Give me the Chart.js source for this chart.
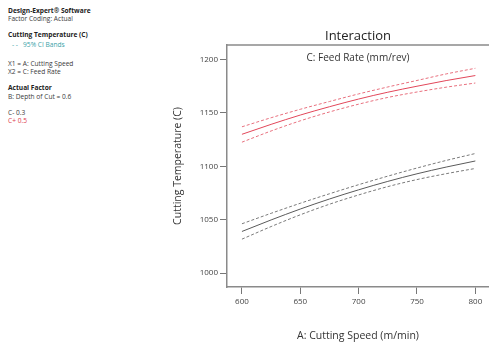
<!DOCTYPE html>
<html><head><meta charset="utf-8">
<script src="https://cdn.jsdelivr.net/npm/chart.js@4.4.1/dist/chart.umd.min.js"></script>
<style>
html,body{margin:0;padding:0;background:#fff;width:489px;height:348px;overflow:hidden;font-family:"Open Sans",sans-serif}
#wrap{position:absolute;left:150px;top:0;width:339px;height:348px}
.t{position:absolute;left:8px;font-size:6.6px;line-height:8px;color:#3a3a3a;white-space:nowrap}
.b{font-weight:bold;color:#222}
#feed{position:absolute;left:227px;width:262px;top:50px;text-align:center;font-size:10px;line-height:14px;color:#333}
</style></head>
<body>
<div class="t b" style="top:7px">Design-Expert® Software</div>
<div class="t" style="top:15px">Factor Coding: Actual</div>
<div class="t b" style="top:31px">Cutting Temperature (C)</div>
<div class="t" style="top:41px;left:12px;color:#3a9fa8">- -&nbsp;&nbsp;&nbsp;95% CI Bands</div>
<div class="t" style="top:60px">X1 = A: Cutting Speed</div>
<div class="t" style="top:68px">X2 = C: Feed Rate</div>
<div class="t b" style="top:84px">Actual Factor</div>
<div class="t" style="top:93px">B: Depth of Cut = 0.6</div>
<div class="t" style="top:109px">C- 0.3</div>
<div class="t" style="top:117px;color:#e03a4e">C+ 0.5</div>
<div id="wrap"><canvas id="c" width="339" height="348"></canvas></div>
<div id="feed">C: Feed Rate (mm/rev)</div>
<script>
// Cutting speed (m/min)
const speed = [600, 625, 650, 675, 700, 725, 750, 775, 800];
// C- 0.3 (feed rate low)
const lowMean  = [1039.0, 1049.8, 1060.0, 1069.4, 1078.0, 1085.9, 1093.0, 1099.3, 1105.0];
const lowUpper = [1046.2, 1056.0, 1065.4, 1074.3, 1082.8, 1090.8, 1098.4, 1105.5, 1112.0];
const lowLower = [1031.8, 1043.6, 1054.6, 1064.5, 1073.2, 1081.0, 1087.6, 1093.1, 1098.0];
// C+ 0.5 (feed rate high)
const highMean  = [1130.0, 1139.3, 1148.0, 1155.8, 1163.0, 1169.4, 1175.0, 1180.3, 1185.0];
const highUpper = [1137.0, 1145.5, 1153.4, 1160.7, 1167.8, 1174.3, 1180.4, 1186.5, 1191.8];
const highLower = [1122.6, 1133.1, 1142.6, 1150.9, 1158.2, 1164.5, 1169.6, 1174.1, 1178.0];
// tick labels
const xTicks = [600, 650, 700, 750, 800];
const yTicks = [1000, 1050, 1100, 1150, 1200];

const pts = arr => arr.map((v, i) => ({x: speed[i], y: v}));
const RED = '#e2475a', RED_D = '#e8707e', GRAY = '#5a5a5a', GRAY_D = '#7a7a7a';
function ds(label, arr, color, dashed) {
  return {label, data: pts(arr), borderColor: color, borderWidth: 1,
    borderDash: dashed ? [3, 2] : [], pointRadius: 0, fill: false,
    cubicInterpolationMode: 'monotone'};
}
const topLine = {
  id: 'topLine',
  afterDraw(chart) {
    const a = chart.chartArea, ctx = chart.ctx;
    ctx.save(); ctx.strokeStyle = '#8a8a8a'; ctx.lineWidth = 1.5;
    ctx.beginPath(); ctx.moveTo(a.left, a.top); ctx.lineTo(a.right, a.top); ctx.stroke();
    ctx.restore();
  }
};
new Chart(document.getElementById('c'), {
  type: 'line',
  data: {datasets: [
    ds('C+ 0.5 upper', highUpper, RED_D, true),
    ds('C+ 0.5', highMean, RED, false),
    ds('C+ 0.5 lower', highLower, RED_D, true),
    ds('C- 0.3 upper', lowUpper, GRAY_D, true),
    ds('C- 0.3', lowMean, GRAY, false),
    ds('C- 0.3 lower', lowLower, GRAY_D, true)
  ]},
  plugins: [topLine],
  options: {
    responsive: false, animation: false,
    layout: {padding: {left: 0, right: 0, top: 0, bottom: 0}},
    plugins: {
      legend: {display: false}, tooltip: {enabled: false},
      title: {display: true, text: 'Interaction', fullSize: false, color: '#222',
        font: {family: 'Open Sans', size: 13, weight: 'normal'}, padding: {top: 28, bottom: 1.4}}
    },
    scales: {
      x: {type: 'linear', min: 587.2, max: 811.7,
        afterBuildTicks: s => { s.ticks = xTicks.map(v => ({value: v})); },
        afterFit: s => { s.height = 61; },
        grid: {drawOnChartArea: false, drawTicks: true, tickLength: 7, color: '#8a8a8a', tickColor: '#777'},
        border: {display: true, color: '#8a8a8a', width: 1.5},
        ticks: {color: '#444', font: {family: 'Open Sans', size: 8}, padding: 3, maxRotation: 0,
          callback: v => String(v)},
        title: {display: true, text: 'A: Cutting Speed (m/min)', color: '#333',
          font: {family: 'Open Sans', size: 10.5}, padding: {top: 0, bottom: 6}}
      },
      y: {min: 987, max: 1213.6,
        afterBuildTicks: s => { s.ticks = yTicks.map(v => ({value: v})); },
        afterFit: s => { s.width = 77; },
        grid: {drawOnChartArea: false, drawTicks: true, tickLength: 7, color: '#8a8a8a', tickColor: '#777'},
        border: {display: true, color: '#8a8a8a', width: 1.5},
        ticks: {color: '#444', font: {family: 'Open Sans', size: 8}, padding: 2,
          callback: v => String(v)},
        title: {display: true, text: 'Cutting Temperature (C)', color: '#333',
          font: {family: 'Open Sans', size: 10.5}, padding: {top: 22, bottom: 0}}
      }
    }
  }
});
</script>
</body></html>
